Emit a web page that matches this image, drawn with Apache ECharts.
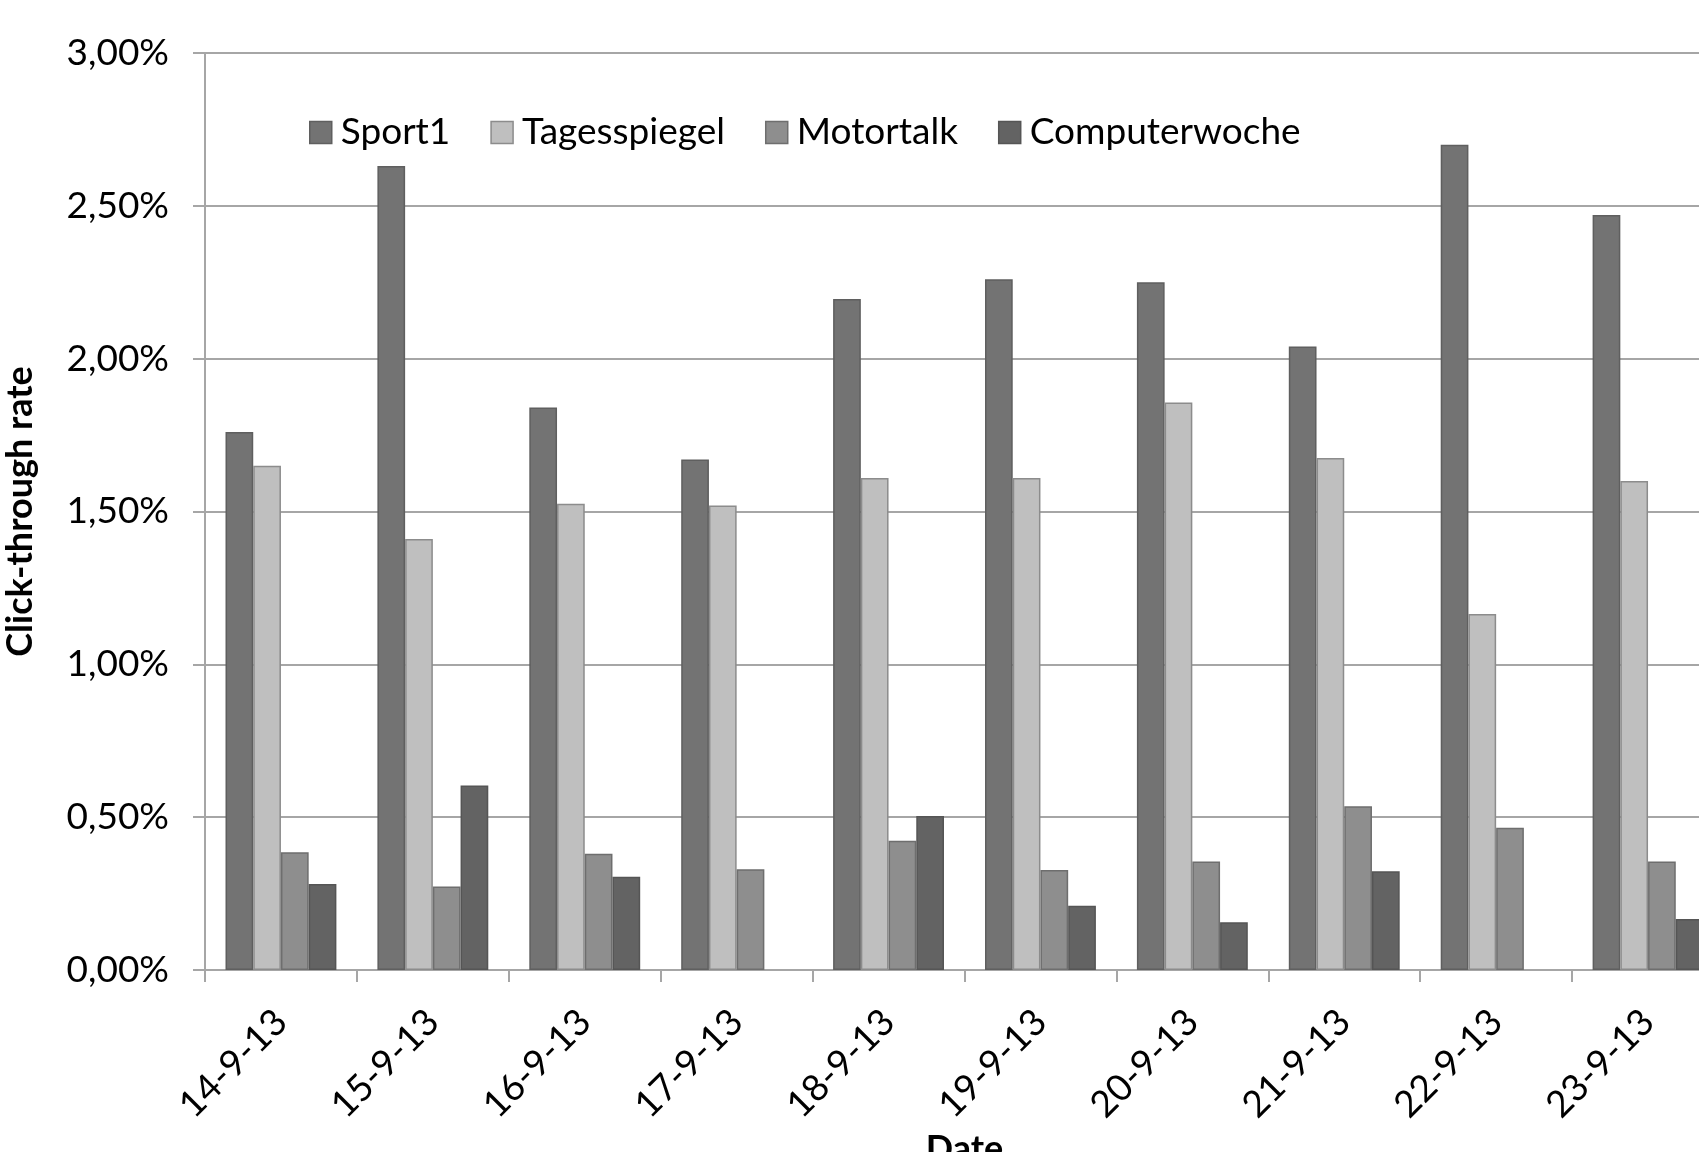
<!DOCTYPE html>
<html>
<head>
<meta charset="utf-8">
<script src="https://cdn.jsdelivr.net/npm/echarts@6/dist/echarts.min.js"></script>
<style>html,body{margin:0;padding:0;background:#fff;overflow:hidden;}#c{width:1699px;height:1152px;}</style>
</head>
<body>
<div id="c"></div>
<script>
const categories = ['14-9-13','15-9-13','16-9-13','17-9-13','18-9-13','19-9-13','20-9-13','21-9-13','22-9-13','23-9-13'];
const sport1 = [1.76, 2.63, 1.84, 1.67, 2.195, 2.26, 2.25, 2.04, 2.70, 2.47];
const tagesspiegel = [1.65, 1.41, 1.525, 1.52, 1.61, 1.61, 1.857, 1.675, 1.165, 1.60];
const motortalk = [0.385, 0.273, 0.38, 0.33, 0.423, 0.327, 0.355, 0.536, 0.465, 0.355];
const computerwoche = [0.281, 0.604, 0.305, null, 0.504, 0.21, 0.156, 0.323, null, 0.167];
const yTicks = [0, 0.5, 1, 1.5, 2, 2.5, 3];

const FONT = 'Lato';
const chart = echarts.init(document.getElementById('c'), null, {renderer: 'canvas'});
function mk(name, data, color, border) {
  return {
    name: name, type: 'bar', data: data, barGap: '0%', barCategoryGap: '27%',
    itemStyle: {color: color, borderColor: border, borderWidth: 1.5},
    emphasis: {disabled: true}
  };
}
chart.setOption({
  backgroundColor: '#ffffff',
  animation: false,
  textStyle: {fontFamily: FONT},
  legend: {
    left: 304, top: 109, itemWidth: 22, itemHeight: 22, itemGap: 40,
    icon: 'rect',
    textStyle: {fontFamily: FONT, fontSize: 37, color: '#000', padding: [0,0,0,4]},
    data: [
      {name: 'Sport1', itemStyle: {color: '#737373', borderColor: '#5f5f5f', borderWidth: 1.5}},
      {name: 'Tagesspiegel', itemStyle: {color: '#bfbfbf', borderColor: '#8c8c8c', borderWidth: 1.5}},
      {name: 'Motortalk', itemStyle: {color: '#8e8e8e', borderColor: '#6e6e6e', borderWidth: 1.5}},
      {name: 'Computerwoche', itemStyle: {color: '#636363', borderColor: '#555555', borderWidth: 1.5}}
    ]
  },
  grid: {left: 205, top: 53, width: 1519, height: 917, containLabel: false, outerBoundsMode: 'none'},
  xAxis: {
    type: 'category', data: categories,
    name: 'Date', nameLocation: 'middle', nameGap: 158,
    nameTextStyle: {fontFamily: FONT, fontWeight: 'bold', fontSize: 36, color: '#000'},
    axisLine: {lineStyle: {color: '#a6a6a6', width: 2}},
    axisTick: {show: true, alignWithLabel: false, length: 12, lineStyle: {color: '#a6a6a6', width: 2}},
    axisLabel: {rotate: 45, margin: 46, fontFamily: FONT, fontSize: 37, color: '#000', interval: 0}
  },
  yAxis: {
    type: 'value', min: yTicks[0], max: yTicks[yTicks.length - 1], interval: 0.5,
    name: 'Click-through rate', nameLocation: 'middle', nameGap: 167,
    nameTextStyle: {fontFamily: FONT, fontWeight: 'bold', fontSize: 36, color: '#000'},
    axisLine: {show: true, lineStyle: {color: '#a6a6a6', width: 2}},
    axisTick: {show: true, length: 12, lineStyle: {color: '#a6a6a6', width: 2}},
    splitLine: {show: true, lineStyle: {color: '#a6a6a6', width: 2}},
    axisLabel: {margin: 36, fontFamily: FONT, fontSize: 37, color: '#000',
      formatter: v => v.toFixed(2).replace('.', ',') + '%'}
  },
  series: [
    mk('Sport1', sport1, '#737373', '#5f5f5f'),
    mk('Tagesspiegel', tagesspiegel, '#bfbfbf', '#8c8c8c'),
    mk('Motortalk', motortalk, '#8e8e8e', '#6e6e6e'),
    mk('Computerwoche', computerwoche, '#636363', '#555555')
  ]
});
</script>
</body>
</html>
